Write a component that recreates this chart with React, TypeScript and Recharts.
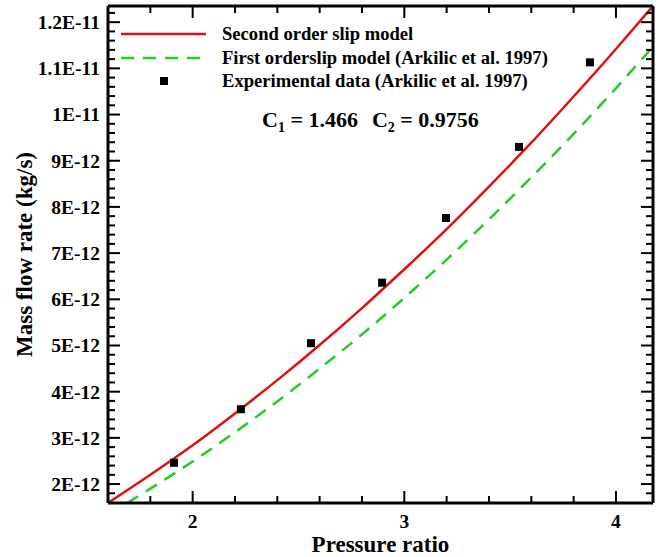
import { ComposedChart, Line, Scatter, XAxis, YAxis } from 'recharts';

// mass flow rate values are in units of 1E-12 kg/s
const modelRatio = [1.6, 1.8, 2.0, 2.2, 2.4, 2.6, 2.8, 3.0, 3.2, 3.4, 3.6, 3.8, 4.0, 4.175];
const secondOrderFlow = [1.59, 2.2, 2.84, 3.53, 4.25, 5.01, 5.81, 6.65, 7.52, 8.44, 9.39, 10.39, 11.42, 12.35];

const firstOrderRatio = [1.69, 1.8, 2.0, 2.2, 2.4, 2.6, 2.8, 3.0, 3.2, 3.4, 3.6, 3.8, 4.0, 4.175];
const firstOrderFlow = [1.59, 1.9, 2.49, 3.12, 3.79, 4.5, 5.24, 6.03, 6.86, 7.73, 8.64, 9.58, 10.57, 11.47];

const expRatio = [1.912, 2.228, 2.559, 2.895, 3.197, 3.542, 3.877];
const expFlow = [2.46, 3.62, 5.05, 6.36, 7.76, 9.3, 11.13];

const xTicks = [1.8, 2, 2.2, 2.4, 2.6, 2.8, 3, 3.2, 3.4, 3.6, 3.8, 4];
const yTicks = [
  1.8, 2, 2.2, 2.4, 2.6, 2.8, 3, 3.2, 3.4, 3.6, 3.8, 4, 4.2, 4.4, 4.6, 4.8, 5, 5.2, 5.4, 5.6, 5.8, 6,
  6.2, 6.4, 6.6, 6.8, 7, 7.2, 7.4, 7.6, 7.8, 8, 8.2, 8.4, 8.6, 8.8, 9, 9.2, 9.4, 9.6, 9.8, 10,
  10.2, 10.4, 10.6, 10.8, 11, 11.2, 11.4, 11.6, 11.8, 12, 12.2,
];

const secondOrder = modelRatio.map((x, i) => ({ x, y: secondOrderFlow[i] }));
const firstOrder = firstOrderRatio.map((x, i) => ({ x, y: firstOrderFlow[i] }));
const experimental = expRatio.map((x, i) => ({ x, y: expFlow[i] }));

const FONT = "'Liberation Serif', 'Times New Roman', serif";
const RED = '#dd1111';
const GREEN = '#22cc22';

const isMajor = (v: number) => Math.abs(v - Math.round(v)) < 1e-6;
const fmtY = (v: number) => (v >= 10 ? `${+(v / 10).toFixed(1)}E-11` : `${Math.round(v)}E-12`);

const LeftTick = ({ x, y, payload }: any) => {
  const major = isMajor(payload.value);
  const x0 = x + 8;
  return (
    <g>
      <line x1={x0} x2={x0 + (major ? 12 : 7)} y1={y} y2={y} stroke="#000" strokeWidth={2} />
      {major && (
        <text x={x} y={y} dy="0.35em" textAnchor="end" fontFamily={FONT} fontWeight="bold" fontSize={19.5} fill="#000">
          {fmtY(payload.value)}
        </text>
      )}
    </g>
  );
};

const RightTick = ({ x, y, payload }: any) => {
  const major = isMajor(payload.value);
  return <line x1={x} x2={x - (major ? 12 : 7)} y1={y} y2={y} stroke="#000" strokeWidth={2} />;
};

const BottomTick = ({ x, y, payload }: any) => {
  const major = isMajor(payload.value);
  const y0 = y - 11;
  return (
    <g>
      <line x1={x} x2={x} y1={y0} y2={y0 - (major ? 12 : 7)} stroke="#000" strokeWidth={2} />
      {major && (
        <text x={x} y={y} dy="0.71em" textAnchor="middle" fontFamily={FONT} fontWeight="bold" fontSize={19.5} fill="#000">
          {payload.value}
        </text>
      )}
    </g>
  );
};

const TopTick = ({ x, y, payload }: any) => {
  const major = isMajor(payload.value);
  return <line x1={x} x2={x} y1={y} y2={y + (major ? 12 : 7)} stroke="#000" strokeWidth={2} />;
};

const YTitle = ({ viewBox }: any) => {
  const cx = viewBox.x + 16;
  const cy = viewBox.y + viewBox.height / 2;
  return (
    <text x={cx} y={cy} transform={`rotate(-90 ${cx} ${cy})`} dy="0.35em" textAnchor="middle"
      fontFamily={FONT} fontWeight="bold" fontSize={23} fill="#000">
      Mass flow rate (kg/s)
    </text>
  );
};

const Square = ({ cx, cy }: any) => <rect x={cx - 4} y={cy - 4} width={8} height={8} fill="#000" />;

const axisLine = { stroke: '#000', strokeWidth: 3 };

export default function App() {
  return (
    <div style={{ position: 'absolute', left: 0, top: 0, width: 664, height: 557, background: '#fff' }}>
      <ComposedChart width={664} height={557} margin={{ top: 5, right: 10, bottom: 4, left: 8 }}>
        <XAxis
          xAxisId="b" dataKey="x" type="number" domain={[1.6, 4.175]} allowDataOverflow
          ticks={xTicks} interval={0} tickSize={0} tickMargin={11} tickLine={false}
          tick={<BottomTick />} axisLine={axisLine} height={50}
          label={{ value: 'Pressure ratio', position: 'insideBottom', offset: 1, fontFamily: FONT, fontWeight: 'bold', fontSize: 23, fill: '#000' }}
        />
        <XAxis
          xAxisId="t" orientation="top" dataKey="x" type="number" domain={[1.6, 4.175]} allowDataOverflow
          ticks={xTicks} interval={0} tickSize={0} tickMargin={0} tickLine={false}
          tick={<TopTick />} axisLine={axisLine} height={1}
        />
        <YAxis
          yAxisId="l" type="number" domain={[1.59, 12.35]} allowDataOverflow
          ticks={yTicks} interval={0} tickSize={0} tickMargin={8} tickLine={false}
          tick={<LeftTick />} axisLine={axisLine} width={100}
          label={<YTitle />}
        />
        <YAxis
          yAxisId="r" orientation="right" type="number" domain={[1.59, 12.35]} allowDataOverflow
          ticks={yTicks} interval={0} tickSize={0} tickMargin={0} tickLine={false}
          tick={<RightTick />} axisLine={axisLine} width={1}
        />
        <Line xAxisId="b" yAxisId="l" data={secondOrder} dataKey="y" type="monotone" stroke={RED}
          strokeWidth={2.5} dot={false} isAnimationActive={false} />
        <Line xAxisId="b" yAxisId="l" data={firstOrder} dataKey="y" type="monotone" stroke={GREEN}
          strokeWidth={2.5} strokeDasharray="13 9" dot={false} isAnimationActive={false} />
        <Scatter xAxisId="b" yAxisId="l" data={experimental} dataKey="y" shape={<Square />} isAnimationActive={false} />
      </ComposedChart>
      <svg width={664} height={557} style={{ position: 'absolute', left: 0, top: 0, pointerEvents: 'none' }}>
        <g fontFamily={FONT} fontWeight="bold" fontSize={18.6} fill="#000">
          <line x1={121} x2={206} y1={34} y2={34} stroke={RED} strokeWidth={2.5} />
          <text x={222} y={40}>Second order slip model</text>
          <line x1={121} x2={206} y1={58} y2={58} stroke={GREEN} strokeWidth={2.5} strokeDasharray="13 9" />
          <text x={222} y={64}>First orderslip model (Arkilic et al. 1997)</text>
          <rect x={160} y={77} width={8} height={8} fill="#000" />
          <text x={222} y={87}>Experimental data (Arkilic et al. 1997)</text>
          <text x={262} y={127} fontSize={22}>
            C<tspan fontSize={14} dy={5}>1</tspan>
            <tspan dy={-5}> = 1.466</tspan>
            <tspan dx={14}>C</tspan>
            <tspan fontSize={14} dy={5}>2</tspan>
            <tspan dy={-5}> = 0.9756</tspan>
          </text>
        </g>
      </svg>
    </div>
  );
}
